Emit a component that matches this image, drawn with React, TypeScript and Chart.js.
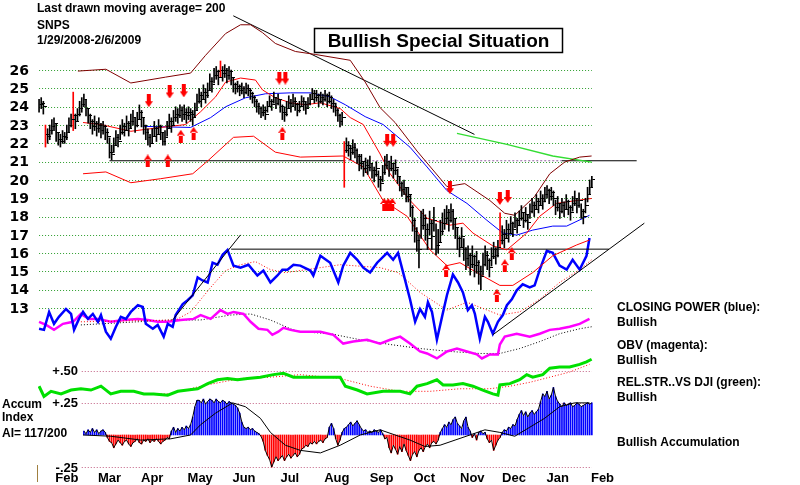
import React, { useEffect, useRef } from "react";
import { Chart, registerables } from "chart.js";
Chart.register(...registerables);

// ---------------- data ----------------
const HEADER_LINES = ["Last drawn moving average= 200", "SNPS", "1/29/2008-2/6/2009"];
const SITUATION = "Bullish Special Situation";
const LEGEND_LINES = [
  "CLOSING POWER (blue):", "Bullish",
  "OBV (magenta):", "Bullish",
  "REL.STR..VS DJI (green):", "Bullish",
  "Bullish Accumulation",
];
const ACCUM_LINES = ["Accum", "Index", "AI= 117/200"];

// daily price bars (trading-day index 0 = 1/29/2008)
const CLOSE = [
  24.1, 24.2, 24.0, 22.5, 22.4, 22.7, 22.9, 23.1, 22.6, 22.2,
  22.1, 22.4, 22.3, 22.6, 23.0, 23.3, 23.5, 23.2, 23.6, 23.9,
  24.1, 24.4, 23.9, 23.5, 23.2, 22.9, 23.1, 22.8, 23.0, 22.7,
  22.9, 22.6, 22.4, 21.5, 21.4, 21.9, 22.3, 22.1, 22.6, 22.9,
  22.7, 23.1, 22.8, 23.2, 23.4, 23.0, 23.3, 23.7, 23.4, 23.0,
  22.6, 22.3, 22.0, 22.4, 22.8, 22.5, 22.9, 22.6, 22.1, 22.3,
  22.8, 23.2, 23.0, 23.4, 23.6, 23.5, 23.8, 23.6, 23.7, 23.5,
  23.7, 23.6, 23.4, 23.8, 24.3, 24.6, 24.4, 24.8, 24.6, 24.9,
  25.4, 25.2, 25.7, 25.9, 25.6, 26.0, 25.8, 26.0, 25.7, 25.9,
  25.6, 25.2, 25.0, 25.1, 24.9, 25.0, 24.8, 25.0, 24.9, 24.7,
  24.5, 24.3, 24.0, 23.9, 23.7, 23.8, 23.6, 24.0, 24.3, 24.1,
  24.5, 24.2, 24.4, 24.0, 23.7, 23.6, 23.9, 24.2, 24.0, 24.3,
  24.1, 23.8, 24.0, 24.3, 24.1, 23.9, 24.2, 24.4, 24.7, 24.5,
  24.6, 24.3, 24.5, 24.4, 24.6, 24.3, 24.5, 24.2, 24.0, 23.8,
  23.5, 23.2, 23.4, 21.6, 21.9, 21.7, 21.5, 21.8, 21.6, 21.3,
  20.9, 21.0, 20.6, 20.8, 20.7, 20.9, 20.5, 20.3, 20.6, 20.0,
  19.8, 20.4, 20.8, 21.0, 20.6, 20.9, 20.5, 20.7, 20.2, 19.8,
  19.5, 19.6, 19.1, 19.2, 18.5, 17.8, 17.2, 16.7, 16.2, 17.5,
  17.9, 17.3, 16.8, 17.6, 16.9, 17.8, 16.4, 16.6, 17.2, 17.6,
  17.9, 18.2, 17.8, 18.3, 17.9, 17.4, 16.8, 16.3, 16.9, 16.2,
  15.7, 15.9, 15.4, 15.8, 15.3, 15.5, 15.0, 14.7, 15.4, 15.9,
  15.6, 15.2, 15.8, 16.2, 15.9, 16.3, 16.7, 17.0, 16.8, 17.3,
  17.1, 17.6, 17.3, 17.8, 17.5, 17.9, 18.2, 17.8, 18.1, 17.7,
  18.3, 18.6, 18.4, 18.8, 18.6, 19.0, 18.8, 19.2, 19.4, 19.1,
  19.3, 19.0, 18.5, 18.7, 18.3, 18.6, 18.4, 18.8, 18.5, 18.2,
  18.7, 19.0, 18.6, 18.9, 18.3, 18.0, 18.6, 19.2, 19.6, 20.0,
];
const HIGH = [
  24.4, 24.5, 24.3, 23.0, 22.8, 23.0, 23.3, 23.4, 23.1, 22.6,
  22.5, 22.7, 22.6, 23.0, 23.4, 23.6, 24.8, 23.6, 23.9, 24.3,
  24.5, 24.7, 24.4, 23.9, 23.6, 23.3, 23.5, 23.2, 23.4, 23.1,
  23.2, 23.0, 22.8, 22.3, 21.9, 22.3, 22.7, 22.5, 23.0, 23.3,
  23.1, 23.5, 23.2, 23.6, 23.8, 23.4, 23.7, 24.1, 23.8, 23.4,
  23.0, 22.8, 22.5, 22.8, 23.2, 22.9, 23.3, 23.0, 22.6, 22.7,
  23.2, 23.6, 23.4, 23.8, 24.0, 23.9, 24.1, 24.0, 24.1, 23.9,
  24.0, 23.9, 23.8, 24.2, 24.7, 25.0, 24.8, 25.2, 25.0, 25.3,
  25.8, 25.6, 26.1, 26.2, 26.0, 26.5, 26.2, 26.3, 26.1, 26.2,
  26.0, 25.6, 25.3, 25.4, 25.2, 25.3, 25.1, 25.3, 25.2, 25.0,
  24.8, 24.6, 24.4, 24.2, 24.0, 24.1, 24.0, 24.3, 24.6, 24.4,
  24.8, 24.5, 24.7, 24.4, 24.1, 24.0, 24.3, 24.6, 24.4, 24.7,
  24.5, 24.2, 24.3, 24.6, 24.5, 24.3, 24.5, 24.7, 25.0, 24.9,
  24.9, 24.7, 24.8, 24.7, 24.9, 24.7, 24.8, 24.6, 24.4, 24.2,
  23.9, 23.6, 23.7, 22.1, 22.3, 22.1, 21.9, 22.2, 22.0, 21.7,
  21.4, 21.4, 21.0, 21.2, 21.1, 21.3, 20.9, 20.7, 21.0, 20.5,
  20.2, 20.8, 21.3, 21.4, 21.0, 21.3, 20.9, 21.1, 20.6, 20.2,
  19.9, 20.0, 19.6, 19.6, 19.2, 18.6, 17.9, 17.4, 17.0, 18.3,
  18.4, 18.1, 17.6, 18.3, 17.8, 18.5, 17.6, 17.3, 17.8, 18.2,
  18.4, 18.6, 18.4, 18.7, 18.4, 17.9, 17.4, 16.9, 17.4, 16.8,
  16.3, 16.4, 16.0, 16.4, 15.9, 16.1, 15.6, 15.3, 16.0, 16.4,
  16.1, 15.7, 16.3, 16.6, 16.3, 16.7, 18.2, 17.5, 17.3, 17.8,
  17.6, 18.0, 17.7, 18.2, 17.9, 18.3, 18.6, 18.2, 18.5, 18.1,
  18.7, 19.0, 18.8, 19.2, 19.0, 19.4, 19.2, 19.6, 19.7, 19.5,
  19.6, 19.4, 18.9, 19.1, 18.7, 19.0, 18.8, 19.2, 18.9, 18.6,
  19.1, 19.4, 19.0, 19.3, 18.7, 18.4, 19.0, 19.6, 20.0, 20.2,
];
const LOW = [
  23.7, 23.9, 23.6, 21.8, 22.0, 22.2, 22.5, 22.7, 22.1, 21.9,
  21.8, 22.0, 22.0, 22.2, 22.6, 22.9, 22.7, 22.8, 23.2, 23.5,
  23.7, 24.0, 23.5, 23.1, 22.8, 22.5, 22.7, 22.4, 22.6, 22.3,
  22.5, 22.2, 22.0, 21.2, 21.1, 21.5, 21.9, 21.8, 22.2, 22.5,
  22.4, 22.7, 22.4, 22.8, 23.0, 22.6, 22.9, 23.3, 22.9, 22.5,
  22.2, 21.9, 21.8, 22.0, 22.4, 22.1, 22.5, 22.2, 21.9, 21.9,
  22.4, 22.8, 22.6, 23.0, 23.2, 23.1, 23.4, 23.2, 23.3, 23.1,
  23.3, 23.2, 23.0, 23.4, 23.8, 24.2, 24.0, 24.4, 24.2, 24.5,
  24.9, 24.8, 25.3, 25.5, 25.2, 25.6, 25.4, 25.6, 25.3, 25.5,
  25.2, 24.8, 24.7, 24.8, 24.6, 24.7, 24.5, 24.7, 24.6, 24.4,
  24.2, 24.0, 23.7, 23.6, 23.4, 23.5, 23.3, 23.7, 24.0, 23.8,
  24.2, 23.9, 24.1, 23.7, 23.3, 23.2, 23.5, 23.9, 23.7, 24.0,
  23.8, 23.5, 23.7, 24.0, 23.8, 23.6, 23.9, 24.1, 24.4, 24.2,
  24.3, 24.0, 24.2, 24.1, 24.3, 24.0, 24.2, 23.9, 23.7, 23.5,
  23.2, 22.9, 23.0, 19.6, 21.5, 21.3, 21.1, 21.4, 21.2, 20.9,
  20.5, 20.6, 20.2, 20.4, 20.3, 20.5, 20.1, 19.9, 20.2, 19.6,
  19.4, 19.9, 20.3, 20.6, 20.2, 20.5, 20.1, 20.3, 19.8, 19.4,
  19.1, 19.2, 18.8, 18.8, 18.0, 17.2, 16.6, 16.1, 15.2, 16.8,
  17.3, 16.7, 16.2, 17.0, 16.2, 17.2, 15.9, 16.0, 16.6, 17.0,
  17.3, 17.6, 17.2, 17.7, 17.3, 16.8, 16.2, 15.8, 16.3, 15.6,
  15.1, 15.3, 14.8, 15.2, 14.7, 14.9, 14.3, 14.0, 14.8, 15.3,
  15.1, 14.7, 15.3, 15.7, 15.4, 15.8, 16.3, 16.5, 16.3, 16.8,
  16.6, 17.1, 16.9, 17.4, 17.1, 17.5, 17.8, 17.4, 17.7, 17.3,
  17.9, 18.2, 18.0, 18.4, 18.2, 18.6, 18.4, 18.8, 19.0, 18.7,
  18.9, 18.6, 18.1, 18.3, 17.9, 18.2, 18.0, 18.4, 18.1, 17.8,
  18.3, 18.6, 18.2, 18.5, 17.9, 17.6, 18.2, 18.8, 19.2, 19.6,
];
const RED_BAR_DAYS = [3, 16, 85, 143, 216];

const PRICE_TICKS = [13, 14, 15, 16, 17, 18, 19, 20, 21, 22, 23, 24, 25, 26];
const MONTH_LABELS = ["Feb", "Mar", "Apr", "May", "Jun", "Jul", "Aug", "Sep", "Oct", "Nov", "Dec", "Jan", "Feb"];
const MONTH_POS = [13, 33, 53, 75.5, 96, 117.5, 139.5, 160.5, 180.5, 203, 222.5, 243, 264];
const LOWER_TICKS = [0.5, 0.25, -0.25];
const LOWER_TICK_LABELS = ["+.50", "+.25", "-.25"];

type Pt = [number, number];
const MA20: Pt[] = [[20.6,23.14],[29,23.03],[43,22.66],[57,22.87],[68.7,23.03],[75.7,23.73],[82.7,24.54],[87.4,25.35],[94.4,25.57],[101.4,25.46],[104.7,24.92],[110.7,24.49],[117.8,24.22],[124.8,24.11],[131.8,24.22],[141.1,23.9],[145.8,23.41],[151.9,23.03],[159.8,21.42],[164.5,20.34],[173.8,18.88],[181.8,17.91],[192.5,17.53],[198.6,17.64],[203.3,17.1],[212.6,16.4],[219.2,16.18],[228.5,17.1],[234.6,18.02],[242.5,18.72],[251.9,18.88],[258.9,18.99]];
const UPPER_BAND: Pt[] = [[18.2,25.95],[31.3,26.05],[43,25.3],[59.3,25.62],[71,25.84],[78,26.81],[87.4,28.0],[94.4,28.48],[99.1,28.48],[104.7,28.05],[110.7,27.46],[120.1,27.02],[129.4,26.86],[145.8,26.54],[152.8,25.35],[159.8,23.95],[166.8,23.14],[177.1,21.58],[191.1,19.64],[199.5,19.8],[211.2,18.88],[218.2,18.18],[222.9,18.07],[232.2,19.1],[239.3,20.34],[246.3,20.98],[253.3,21.25],[258.9,21.31]];
const LOWER_BAND: Pt[] = [[20.6,20.34],[31.3,20.44],[43,19.85],[57,20.07],[72,20.34],[79,21.04],[91.1,22.33],[100.5,22.39],[110.7,21.52],[122.4,21.25],[142.5,21.31],[151.9,20.71],[161.2,18.88],[172.4,18.02],[183.2,16.18],[191.1,15.32],[197.2,15.48],[205.1,14.94],[215.9,14.24],[222,14.24],[231.3,14.94],[240.7,15.86],[251.9,16.45],[257.9,16.72]];
const MA50: Pt[] = [[48.6,22.93],[71,22.87],[80.4,23.41],[87.4,24.0],[96.7,24.49],[106.1,24.71],[117.8,24.76],[127.1,24.76],[136.4,24.54],[143.5,24.11],[152.8,23.46],[161.2,23.03],[173.8,21.79],[181.8,20.71],[191.1,19.42],[200.5,18.72],[209.8,17.8],[217.3,17.1],[223.8,16.99],[231.3,17.26],[240.7,17.48],[247.2,17.48],[257.9,18.07]];
const MA200: Pt[] = [[195.8,22.55],[219.2,21.95],[240.7,21.31],[258.9,20.98]];

const CLOSING_POWER: Pt[] = [[0,11.87],[2.3,11.81],[4.7,12.79],[7,12.14],[9.3,12.52],[12.6,12.95],[15,12.68],[16.4,11.81],[18.7,12.41],[20.6,12.79],[22.9,12.41],[25.2,12.68],[27.6,12.25],[29,12.62],[31.3,11.71],[33.6,11.33],[36,11.98],[38.3,12.52],[40.7,12.41],[43,12.79],[46.3,13.16],[48.6,13.06],[50,12.14],[53.3,11.87],[55.6,12.08],[58.4,11.44],[60.3,12.14],[62.6,11.98],[64,12.62],[67.3,13.22],[69.6,13.43],[72,13.7],[74.3,14.67],[76.6,14.51],[79,14.4],[81.3,15.48],[83.6,15.37],[86,15.91],[88.3,16.18],[91.1,15.32],[94.4,15.21],[98.1,15.37],[102.3,14.78],[105.1,15.05],[108.4,14.4],[111.7,14.78],[114,15.1],[116.4,15.1],[119.2,15.37],[122.4,15.32],[127.1,15.05],[128.5,14.78],[131.8,15.86],[136.4,15.48],[140.2,14.4],[142.5,15.32],[145.8,16.02],[149.1,15.64],[151.9,15.21],[155.1,14.94],[158.4,15.48],[163.1,16.02],[165.9,15.64],[168.2,16.02],[170.6,14.94],[173.8,13.48],[176.2,12.25],[178.5,12.95],[180.8,12.52],[182.2,13.32],[184.1,12.79],[186.4,11.27],[188.8,12.52],[191.1,13.7],[193.9,14.83],[196.3,14.4],[198.6,13.86],[200.9,12.89],[202.8,13.16],[204.2,12.68],[206.5,11.33],[208.9,12.52],[210.3,12.25],[212.6,11.6],[215,12.25],[217.3,12.62],[219.2,13.16],[221.5,13.48],[223.8,13.97],[226.6,14.3],[229.9,14.13],[232.2,14.24],[234.6,15.1],[237.9,16.13],[240.7,16.02],[243.9,15.32],[247.2,15.1],[250,15.64],[253.3,15.1],[256.5,15.86],[257.9,16.83]];
const CP_MA: Pt[] = [[19.6,12.25],[64,12.35],[71,12.79],[80.4,14.13],[87.4,15.05],[94.4,15.37],[101.4,15.54],[108.4,15.1],[115.4,14.94],[122.4,15.05],[141.1,15.37],[159.8,15.21],[168.2,14.94],[178.5,13.86],[191.1,12.89],[200.5,13.32],[215.9,12.62],[225.2,12.79],[234.6,13.48],[243.9,14.4],[253.3,15.1],[258.9,15.64]];
const OBV: Pt[] = [[0,12.25],[3.3,12.08],[7,11.81],[11.2,12.14],[15.9,12.25],[19.6,12.68],[23.4,12.41],[27.6,12.41],[33.6,12.25],[39.7,12.35],[46.3,12.41],[50.9,12.35],[55.6,12.25],[60.3,12.25],[66.4,12.35],[72.4,12.41],[75.7,12.62],[80.4,12.41],[85,12.89],[88.3,12.68],[91.1,12.79],[95.8,12.68],[99.1,12.25],[102.8,11.87],[107,11.81],[109.3,11.54],[112.1,11.71],[114.5,11.92],[117.8,11.81],[122.4,11.71],[131.8,11.71],[137.9,11.54],[142.5,11.06],[147.2,11.17],[153.7,11.27],[159.8,11.06],[164.5,11.27],[169.2,11.44],[173.8,11.06],[178.5,10.63],[181.8,10.52],[186.4,10.25],[191.1,10.63],[195.8,10.79],[200.5,10.63],[205.1,10.47],[207.5,10.25],[211.2,10.47],[215,10.47],[215.9,11.01],[218.2,11.44],[223.8,11.6],[229.9,11.44],[234.6,11.6],[239.3,11.81],[243.9,11.87],[248.6,11.98],[253.3,12.14],[257.9,12.41]];
const OBV_MA: Pt[] = [[19.6,12.08],[61.7,12.35],[75.7,12.35],[89.7,12.62],[99.1,12.68],[108.4,12.35],[117.8,11.87],[122.4,11.71],[136.4,11.6],[150.5,11.27],[164.5,11.01],[178.5,10.79],[192.5,10.63],[206.5,10.52],[215.9,10.52],[225.2,10.79],[234.6,11.17],[243.9,11.6],[253.3,11.87],[258.9,11.98]];
const REL_STR: Pt[] = [[0,0.38],[2.3,0.30],[5.6,0.34],[10.3,0.32],[15,0.35],[19.6,0.36],[24.3,0.35],[29,0.38],[33.6,0.32],[38.3,0.34],[44.4,0.34],[49.1,0.32],[53.7,0.32],[60.3,0.31],[65,0.34],[69.6,0.35],[74.3,0.36],[79,0.40],[83.6,0.43],[88.3,0.44],[93,0.43],[97.7,0.44],[103.7,0.45],[109.8,0.47],[114.5,0.48],[119.2,0.45],[122.4,0.45],[131.8,0.45],[141.1,0.45],[143.5,0.38],[149.1,0.35],[153.7,0.32],[161.2,0.34],[169.2,0.34],[173.8,0.32],[177.1,0.38],[181.8,0.40],[186.4,0.43],[189.3,0.39],[193.9,0.39],[198.6,0.40],[203.3,0.38],[207.9,0.35],[212.6,0.32],[215,0.31],[215.9,0.39],[220.6,0.40],[225.2,0.43],[228.5,0.47],[231.3,0.45],[236,0.47],[239.3,0.52],[243.9,0.53],[248.6,0.53],[253.3,0.55],[256.5,0.57],[258.9,0.59]];
const RS_MA: Pt[] = [[50,0.32],[61.7,0.32],[75.7,0.38],[85,0.41],[94.4,0.44],[108.4,0.45],[122.4,0.47],[141.1,0.44],[155.1,0.38],[169.2,0.34],[183.2,0.34],[197.2,0.36],[211.2,0.36],[220.6,0.38],[229.9,0.41],[239.3,0.45],[248.6,0.49],[257.9,0.55]];

const ACCUM_START = 21;
const ACCUM = [
  0.03, 0.01, 0.04, 0.02, 0.05, 0.02, 0.04, 0.01, 0.03, 0.04, 0.02,
  -0.02, -0.05, -0.06, -0.10, -0.07, -0.04, -0.06, -0.08, -0.05, -0.04,
  -0.07, -0.09, -0.06, -0.05, -0.03, -0.06, -0.07, -0.04, -0.05, -0.03,
  -0.06, -0.04, -0.05, -0.03, -0.05, -0.07, -0.05, -0.04, -0.02, -0.03,
  0.03, 0.06, 0.02, 0.05, 0.03, 0.06, 0.04, 0.07, 0.05, 0.08,
  0.14, 0.22, 0.27,
  0.27, 0.25, 0.28, 0.24, 0.26, 0.28, 0.27, 0.25, 0.28, 0.26, 0.25, 0.27, 0.26, 0.24, 0.26, 0.25, 0.24, 0.23, 0.21,
  0.17, 0.10, 0.06, 0.05, 0.06, 0.04, 0.05, 0.03,
  0.02, 0.01, -0.01,
  -0.05, -0.12, -0.16, -0.19, -0.25, -0.21, -0.17, -0.20, -0.18, -0.16, -0.20, -0.17, -0.15, -0.18, -0.16, -0.14, -0.17, -0.15, -0.11, -0.10, -0.08,
  -0.09, -0.06, -0.07, -0.05, -0.07, -0.05, -0.04, -0.06, -0.03, -0.02,
  0.06, 0.09, 0.05, -0.03, -0.08, -0.04, 0.02, 0.05,
  0.06, 0.08, 0.10, 0.07, 0.09, 0.11, 0.08, 0.05, 0.03, 0.04, 0.02,
  0.03, 0.02, 0.04, 0.03, 0.02, 0.04,
  0.01, -0.03, -0.02,
  -0.10, -0.14, -0.08, -0.11, -0.15, -0.09, -0.13, -0.07, -0.12, -0.16, -0.20, -0.15, -0.13, -0.17, -0.12, -0.10, -0.13, -0.09, -0.07, -0.10, -0.06, -0.05, -0.07, -0.04,
  0.02, 0.05, 0.08, 0.06, 0.10, 0.08, 0.12, 0.14, 0.09, 0.07, 0.05, 0.11, 0.14, 0.06,
  0.03, -0.02, 0.01, -0.04, 0.02, 0.03, 0.01, 0.02,
  -0.03, -0.06, -0.04, -0.12, -0.08, -0.04, -0.02,
  0.02, 0.04, 0.03, 0.06, 0.05, 0.08, 0.07,
  0.12, 0.16, 0.19, 0.15, 0.18, 0.14, 0.17, 0.19, 0.16, 0.18,
  0.20, 0.26, 0.32, 0.30, 0.34, 0.28, 0.31, 0.37, 0.30, 0.26,
  0.24, 0.22, 0.25, 0.23, 0.24, 0.25, 0.22, 0.23, 0.25, 0.24, 0.22, 0.23, 0.24, 0.25, 0.24, 0.25,
];
const ACCUM_MA: Pt[] = [[20.6,0],[33.6,-0.01],[47.7,-0.04],[61.7,-0.03],[71,0],[75.7,0.08],[82.7,0.17],[90.7,0.25],[96.7,0.22],[103.7,0.13],[108.4,0.02],[115.4,-0.08],[122.4,-0.12],[131.8,-0.14],[141.1,-0.08],[150.5,0],[159.8,0.04],[166.8,0],[173.8,-0.04],[180.8,-0.09],[187.9,-0.08],[194.9,-0.04],[201.9,0],[208.9,0.04],[215.9,0.02],[222.9,-0.01],[229.9,0.06],[236.9,0.13],[243.9,0.22],[250.9,0.25],[257.9,0.25]];

// drawn trend lines and levels
const DOWN_TREND: Pt[] = [[91, 28.97], [204, 22.49]];
const UP_TREND: Pt[] = [[212.6, 11.54], [283.6, 17.64]];
const CP_BREAKOUT: Pt[] = [[62.6, 12.35], [94.4, 17.0]];
const LEVEL_21 = 21.05;
const LEVEL_21_SOLID_SPANS: Pt[] = [[33, 143], [245, 280]];
const LEVEL_21_DOTTED_SPAN: Pt = [143, 245];
const LEVEL_16 = 16.22;
const LEVEL_16_SPAN: Pt = [90, 267];

// signal arrows
const DOWN_ARROWS: Pt[] = [[51.4, 24.33], [61.2, 24.81], [67.8, 24.87], [192.5, 19.58], [215.9, 18.99], [219.6, 19.1]];
const DOUBLE_DOWN_ARROWS: Pt[] = [[114, 25.57], [164.5, 22.17]];
const UP_ARROWS: Pt[] = [[50.9, 21.04], [60.3, 21.04], [66.4, 22.39], [72.4, 22.55], [114, 22.55], [190.7, 15.05], [218.2, 15.32], [221.5, 15.97], [214.5, 13.7]];
const TRIPLE_UP_ARROWS: Pt[] = [[163.6, 18.66]];

// ---------------- helpers ----------------
const FONT = '"Liberation Sans", Arial, sans-serif';
const toXY = (pts: Pt[]) => pts.map(([x, y]) => ({ x, y }));
const span = (s: Pt, v: number) => [{ x: s[0], y: v }, { x: s[1], y: v }];

function arrowCanvas(count: number, up: boolean, spacing: number) {
  const aw = 8;
  const w = aw + (count - 1) * spacing;
  const h = 13;
  const c = document.createElement("canvas");
  c.width = w;
  c.height = h;
  const g = c.getContext("2d")!;
  g.fillStyle = "#ff0000";
  for (let k = 0; k < count; k++) {
    const ox = k * spacing;
    g.beginPath();
    if (up) {
      g.rect(ox + 2, 5, 4, 8);
      g.moveTo(ox, 6); g.lineTo(ox + aw, 6); g.lineTo(ox + aw / 2, 0);
    } else {
      g.rect(ox + 2, 0, 4, 8);
      g.moveTo(ox, 7); g.lineTo(ox + aw, 7); g.lineTo(ox + aw / 2, 13);
    }
    g.closePath();
    g.fill();
  }
  return c;
}

function tickCanvas() {
  const c = document.createElement("canvas");
  c.width = 7;
  c.height = 1;
  const g = c.getContext("2d")!;
  g.fillStyle = "#000000";
  g.fillRect(4, 0, 3, 1);
  return c;
}

const lineDs = (data: Pt[], color: string, width: number, axis = "price", dash: number[] = []) => ({
  type: "line" as const,
  data: toXY(data),
  borderColor: color,
  borderWidth: width,
  borderDash: dash,
  pointRadius: 0,
  fill: false,
  tension: 0,
  yAxisID: axis,
});

const decorPlugin = {
  id: "decor",
  beforeDatasetsDraw(chart: any) {
    const { ctx, scales } = chart;
    const xs = scales.x, ps = scales.price, ls = scales.low;
    ctx.save();
    ctx.lineWidth = 1;
    ctx.setLineDash([1, 2]);
    ctx.strokeStyle = "#2f9f2f";
    const x0 = xs.getPixelForValue(0);
    const x1 = xs.getPixelForValue(CLOSE.length - 1);
    PRICE_TICKS.forEach((v) => {
      const y = Math.round(ps.getPixelForValue(v)) + 0.5;
      ctx.beginPath(); ctx.moveTo(x0, y); ctx.lineTo(x1, y); ctx.stroke();
    });
    ctx.strokeStyle = "#c05c80";
    const x2 = xs.getPixelForValue(ACCUM_START - 1);
    LOWER_TICKS.forEach((v) => {
      const y = Math.round(ls.getPixelForValue(v)) + 0.5;
      ctx.beginPath(); ctx.moveTo(x2, y); ctx.lineTo(x1, y); ctx.stroke();
    });
    ctx.restore();
  },
  afterDatasetsDraw(chart: any) {
    const { ctx, scales } = chart;
    const xs = scales.x, ps = scales.price, ls = scales.low;
    ctx.save();
    ctx.fillStyle = "#000";
    // price tick labels
    ctx.font = 'bold 14px "DejaVu Sans", sans-serif';
    ctx.textAlign = "right";
    ctx.textBaseline = "middle";
    PRICE_TICKS.forEach((v) => ctx.fillText(String(v), 29, ps.getPixelForValue(v) + 1));
    // lower panel labels
    ctx.font = `bold 13px ${FONT}`;
    LOWER_TICKS.forEach((v, i) => ctx.fillText(LOWER_TICK_LABELS[i], 78, ls.getPixelForValue(v) + 1));
    // month labels
    ctx.textAlign = "center";
    ctx.textBaseline = "alphabetic";
    ctx.font = `bold 13px ${FONT}`;
    MONTH_LABELS.forEach((m, i) => ctx.fillText(m, xs.getPixelForValue(MONTH_POS[i]), 482));
    // header
    ctx.textAlign = "left";
    ctx.font = `bold 12px ${FONT}`;
    [12, 29, 44].forEach((y, i) => ctx.fillText(HEADER_LINES[i], 37, y));
    // accum labels
    [408, 421, 437].forEach((y, i) => ctx.fillText(ACCUM_LINES[i], 2, y));
    // right legend
    [311, 326, 349, 364, 386, 401, 446].forEach((y, i) => ctx.fillText(LEGEND_LINES[i], 617, y));
    // situation box
    ctx.fillStyle = "#fff";
    ctx.fillRect(314, 28, 249, 25);
    ctx.strokeStyle = "#000";
    ctx.lineWidth = 1.5;
    ctx.strokeRect(314.5, 28.5, 248, 24);
    ctx.fillStyle = "#000";
    ctx.font = `bold 19px ${FONT}`;
    ctx.textAlign = "center";
    ctx.fillText(SITUATION, 438.5, 47);
    // small axis mark
    ctx.strokeStyle = "#a08040";
    ctx.lineWidth = 1;
    ctx.beginPath(); ctx.moveTo(37.5, 465); ctx.lineTo(37.5, 482); ctx.stroke();
    ctx.restore();
  },
};

export default function App() {
  const ref = useRef<HTMLCanvasElement>(null);
  useEffect(() => {
    document.body.style.margin = "0";
    const canvas = ref.current!;
    const tick = tickCanvas();
    const downImg = arrowCanvas(1, false, 5);
    const downImg2 = arrowCanvas(2, false, 6);
    const upImg = arrowCanvas(1, true, 5);
    const upImg3 = arrowCanvas(3, true, 4);
    const arrowDs = (pts: Pt[], img: HTMLCanvasElement) => ({
      type: "scatter" as const,
      data: toXY(pts),
      pointStyle: img,
      pointRadius: 5,
      yAxisID: "price",
    });

    const datasets: any[] = [
      arrowDs(DOWN_ARROWS, downImg),
      arrowDs(DOUBLE_DOWN_ARROWS, downImg2),
      arrowDs(UP_ARROWS, upImg),
      arrowDs(TRIPLE_UP_ARROWS, upImg3),
      {
        type: "scatter",
        data: CLOSE.map((c, i) => ({ x: i, y: c })),
        pointStyle: tick,
        pointRadius: 2,
        yAxisID: "price",
      },
      {
        type: "bar",
        data: CLOSE.map((_, i) => ({ x: i, y: [LOW[i], HIGH[i]] })),
        backgroundColor: CLOSE.map((_, i) => (RED_BAR_DAYS.includes(i) ? "#ff0000" : "#000000")),
        barThickness: 1,
        grouped: false,
        yAxisID: "price",
      },
      lineDs(MA20, "#ff0000", 1),
      lineDs(LOWER_BAND, "#ff0000", 1),
      lineDs(UPPER_BAND, "#800000", 1),
      lineDs(MA50, "#0000ff", 1),
      lineDs(MA200, "#33dd33", 1.3),
      lineDs(DOWN_TREND, "#000000", 1),
      lineDs(UP_TREND, "#000000", 1),
      lineDs(CP_BREAKOUT, "#000000", 1),
      { ...lineDs([], "#000000", 1), data: span(LEVEL_21_SOLID_SPANS[0], LEVEL_21) },
      { ...lineDs([], "#000000", 1), data: span(LEVEL_21_SOLID_SPANS[1], LEVEL_21) },
      { ...lineDs([], "#9060a0", 1, "price", [2, 2]), data: span(LEVEL_21_DOTTED_SPAN, LEVEL_21) },
      { ...lineDs([], "#000000", 1), data: span(LEVEL_16_SPAN, LEVEL_16) },
      lineDs(CLOSING_POWER, "#0000ff", 2.5),
      lineDs(CP_MA, "#ff0000", 1, "price", [1, 2]),
      lineDs(OBV, "#ff00ff", 2.5),
      lineDs(OBV_MA, "#000000", 1, "price", [1, 2]),
      lineDs(REL_STR, "#00e000", 3, "low"),
      lineDs(RS_MA, "#ff0000", 1, "low", [1, 2]),
      lineDs(ACCUM_MA, "#000000", 1, "low"),
      {
        ...lineDs([], "#000000", 1, "low"),
        data: ACCUM.map((v, i) => ({ x: ACCUM_START + i, y: v })),
      },
      {
        type: "bar",
        data: ACCUM.map((v, i) => ({ x: ACCUM_START + i, y: v })),
        backgroundColor: ACCUM.map((v) => (v >= 0 ? "#0000ff" : "#ff0000")),
        barThickness: 1,
        grouped: false,
        yAxisID: "low",
      },
    ];

    const chart = new Chart(canvas, {
      type: "line",
      data: { datasets },
      options: {
        responsive: false,
        animation: false,
        devicePixelRatio: 1,
        events: [],
        layout: { padding: { left: 38, top: 0, right: 142, bottom: 15 } },
        plugins: { legend: { display: false }, tooltip: { enabled: false } },
        scales: {
          x: { type: "linear", min: -0.5, max: 290, display: false, offset: false },
          price: { type: "linear", position: "left", min: 4.153, max: 29.506, display: false },
          low: { type: "linear", position: "left", min: -0.273, max: 3.342, display: false },
        },
      } as any,
      plugins: [decorPlugin],
    });
    return () => chart.destroy();
  }, []);
  return <canvas ref={ref} width={800} height={485} style={{ display: "block" }} />;
}
